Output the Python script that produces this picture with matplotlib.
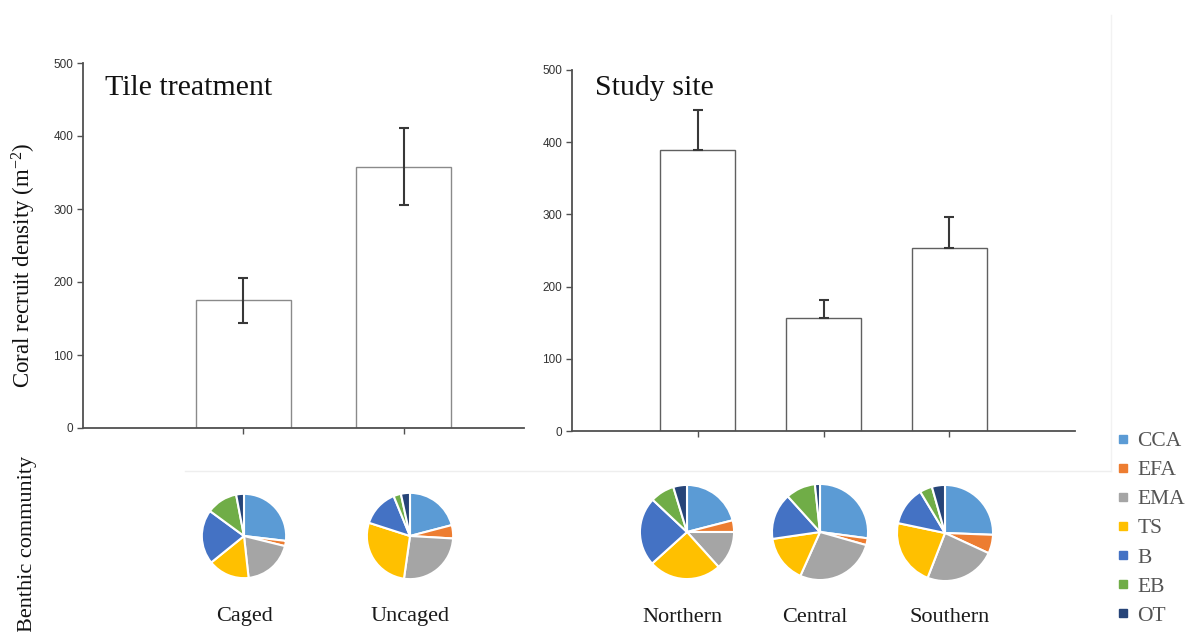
import matplotlib
matplotlib.use("Agg")
import matplotlib.pyplot as plt
from matplotlib.lines import Line2D

plt.rcParams["font.family"] = ["Liberation Serif", "DejaVu Serif"]
plt.rcParams["mathtext.fontset"] = "custom"
plt.rcParams["mathtext.rm"] = "Liberation Serif"
plt.rcParams["mathtext.default"] = "regular"

# Recruit density per treatment / site (mean, SE)
treatments = ["Caged", "Uncaged"]
treat_mean = [175, 358]
treat_se = [31, 53]

sites = ["Northern", "Central", "Southern"]
site_mean = [389, 157, 253]
site_se = [56, 25, 44]

# Benthic community composition (% cover)
groups = ["CCA", "EFA", "EMA", "TS", "B", "EB", "OT"]
group_colors = ["#5B9BD5", "#ED7D31", "#A5A5A5", "#FFC000", "#4472C4", "#70AD47", "#264478"]
comp_caged = [27, 2, 19.5, 16, 21, 12, 3]
comp_uncaged = [21, 5, 26.4, 27.8, 13.9, 2.8, 3.4]
comp_northern = [21, 4, 13.3, 25, 23.7, 8.3, 4.7]
comp_central = [27.1, 2.3, 27.3, 16, 15.6, 10, 1.7]
comp_southern = [25.6, 6.3, 24, 22.4, 13.1, 4.2, 4.4]

W, H = 1187, 632
sans = "Liberation Sans"


def px_box(x0, y0, x1, y1):
    # pixel rectangle (top-left origin) -> figure fraction [l, b, w, h]
    return [x0 / W, 1 - y1 / H, (x1 - x0) / W, (y1 - y0) / H]


def style_axis(ax):
    for s in ["top", "right"]:
        ax.spines[s].set_visible(False)
    for s in ["left", "bottom"]:
        ax.spines[s].set_color("#505050")
        ax.spines[s].set_linewidth(1.3)
    ax.set_ylim(0, 500)
    ax.set_yticks([0, 100, 200, 300, 400, 500])
    ax.tick_params(axis="y", length=4, width=1, color="#505050",
                   labelsize=8.5, labelcolor="#333333", pad=3)
    ax.tick_params(axis="x", length=4, width=1, color="#505050", labelbottom=False)
    for lab in ax.get_yticklabels():
        lab.set_fontfamily(sans)


fig = plt.figure(figsize=(W / 100, H / 100), dpi=100)

# faint panel frame
fig.add_artist(Line2D([185 / W, 1111 / W], [1 - 471 / H, 1 - 471 / H], color="#eeeeee", lw=1))
fig.add_artist(Line2D([1111 / W, 1111 / W], [1 - 471 / H, 1 - 15 / H], color="#f2f2f2", lw=1))

# left panel: tile treatment
ax1 = fig.add_axes(px_box(83, 63, 524, 428))
x1 = [1, 2]
ax1.bar(x1, treat_mean, width=0.59, color="white", edgecolor="#8a8a8a", linewidth=1)
ax1.errorbar(x1, treat_mean, yerr=treat_se, fmt="none", ecolor="#383838",
             elinewidth=1.5, capsize=3.3, capthick=1.5)
ax1.set_xlim(0, 2.75)
ax1.set_xticks(x1)
style_axis(ax1)
fig.text(105 / W, 1 - 95 / H, "Tile treatment", fontsize=21.5,
         color="#111111", va="baseline")

# right panel: study site
ax2 = fig.add_axes(px_box(572, 70, 1075, 431))
x2 = [1, 2, 3]
ax2.bar(x2, site_mean, width=0.6, color="white", edgecolor="#606060", linewidth=1)
ax2.errorbar(x2, site_mean, yerr=[[0, 0, 0], site_se], fmt="none", ecolor="#383838",
             elinewidth=1.5, capsize=3.3, capthick=1.5)
ax2.set_xlim(0, 4)
ax2.set_xticks(x2)
style_axis(ax2)
fig.text(595 / W, 1 - 95 / H, "Study site", fontsize=21.5,
         color="#111111", va="baseline")

fig.text(24 / W, 1 - 265 / H, "Coral recruit density (m$^{-2}$)",
         fontsize=16.5, rotation=90, ha="center", va="center", color="#111111")
fig.text(28 / W, 1 - 544 / H, "Benthic community",
         fontsize=16, rotation=90, ha="center", va="center", color="#111111")

# community pies: (name, values, centre x, centre y, radius, label x)
pies = [
    ("Caged", comp_caged, 244, 536, 43, 244),
    ("Uncaged", comp_uncaged, 410, 536, 44, 410),
    ("Northern", comp_northern, 687, 532, 48, 682),
    ("Central", comp_central, 820, 532, 49, 815),
    ("Southern", comp_southern, 945, 533, 49, 950),
]
for name, vals, cx, cy, r, lx in pies:
    pax = fig.add_axes(px_box(cx - r, cy - r, cx + r, cy + r))
    pax.pie(vals, colors=group_colors, startangle=90, counterclock=False,
            radius=1, wedgeprops=dict(edgecolor="white", linewidth=1.5))
    pax.set_xlim(-1.02, 1.02)
    pax.set_ylim(-1.02, 1.02)
    pax.set_aspect("equal")
    pax.axis("off")
    fig.text(lx / W, 1 - 617 / H, name, fontsize=16,
             ha="center", va="center", color="#1a1a1a")

handles = [Line2D([], [], marker="s", linestyle="none", markersize=5.5,
                  markerfacecolor=c, markeredgecolor=c) for c in group_colors]
leg = fig.legend(handles, groups, loc="upper left",
                 bbox_to_anchor=(1117 / W, 1 - 431 / H), frameon=False,
                 prop={"size": 15.5}, labelspacing=0.42,
                 handlelength=0.6, handletextpad=0.35, borderaxespad=0, borderpad=0)
for t in leg.get_texts():
    t.set_color("#555555")

fig.savefig("out.png", dpi=100)
